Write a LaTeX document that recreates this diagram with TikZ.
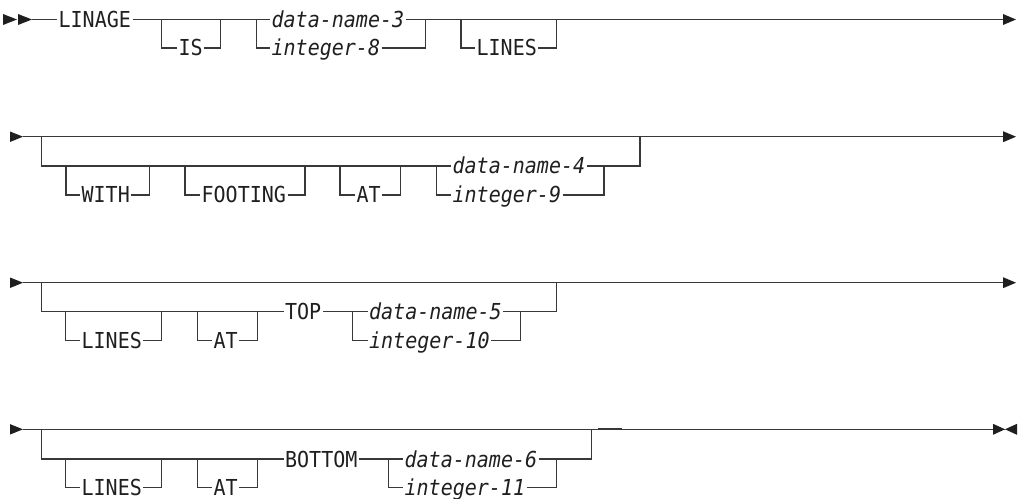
\documentclass[tikz,border=0pt]{standalone}
\usepackage{fontspec}
\newfontfamily\rrfont[FakeStretch=0.91]{DejaVu Sans Mono}
\begin{document}
\begin{tikzpicture}[x=0.75pt,y=-0.75pt,
  rail/.style={draw=black!78, line width=1pt},
  tip/.style={fill=black!88},
  kw/.style={font={\rrfont\fontsize{16.5}{18}\selectfont}, text=black!88, anchor=base west, inner xsep=1pt, inner ysep=0pt},
  var/.style={kw, font={\rrfont\fontsize{16.5}{18}\selectfont\itshape}}]
\useasboundingbox (0,0) rectangle (1018,499);
% rail levels
\coordinate (L1) at (0,19.5);  \coordinate (L1b) at (0,48);
\coordinate (L2) at (0,136.7); \coordinate (L2b) at (0,166);   \coordinate (L2c) at (0,195);
\coordinate (L3) at (0,282.7); \coordinate (L3b) at (0,311.7); \coordinate (L3c) at (0,340.7);
\coordinate (L4) at (0,429.3); \coordinate (L4b) at (0,459);   \coordinate (L4c) at (0,487.3);

% ---------------- row 1 ----------------
\node[kw]  (linage) at (57,27.5) {LINAGE};
\node[kw]  (is)     at (177,56)  {IS};
\node[var] (dn3)    at (270,27.5) {data-name-3};
\node[var] (i8)     at (270,56)  {integer-8};
\node[kw]  (lines1) at (475,56)  {LINES};
\coordinate (s1) at (32,19.5);
\coordinate (e1) at (1003,19.5);
\coordinate (a1) at (161.7,19.5); \coordinate (b1) at (220.7,19.5);
\coordinate (c1) at (256.7,19.5); \coordinate (d1) at (425.7,19.5);
\coordinate (f1) at (461,19.5);   \coordinate (g1) at (556.7,19.5);
\fill[tip] (3,14) -- (17,19.5) -- (3,25) -- cycle;
\fill[tip] (18,14) -- (s1) -- (18,25) -- cycle;
\draw[rail] (s1) -- (linage.west |- L1);
\draw[rail] (linage.east |- L1) -- (dn3.west |- L1);
\draw[rail] (a1) |- (is.west |- L1b);
\draw[rail] (is.east |- L1b) -| (b1);
\draw[rail] (c1) |- (i8.west |- L1b);
\draw[rail] (i8.east |- L1b) -| (d1);
\draw[rail] (dn3.east |- L1) -- (e1);
\draw[rail] (f1) |- (lines1.west |- L1b);
\draw[rail] (lines1.east |- L1b) -| (g1);
\fill[tip] (1003,14) -- (1016,19.5) -- (1003,25) -- cycle;

% ---------------- row 2 ----------------
\node[kw]  (with)    at (80,203)  {WITH};
\node[kw]  (footing) at (200,203) {FOOTING};
\node[kw]  (at2)     at (355,203) {AT};
\node[var] (dn4)     at (451,174) {data-name-4};
\node[var] (i9)      at (451,203) {integer-9};
\coordinate (s2) at (23,136.7);
\coordinate (e2) at (1003,136.7);
\coordinate (a2) at (41.7,136.7); \coordinate (b2) at (640,136.7);
\coordinate (w2l) at (66,166);    \coordinate (w2r) at (149.3,166);
\coordinate (f2l) at (185,166);   \coordinate (f2r) at (305,166);
\coordinate (t2l) at (340,166);   \coordinate (t2r) at (400.7,166);
\coordinate (d2l) at (436.7,166); \coordinate (d2r) at (604,166);
\fill[tip] (10,131.5) -- (s2) -- (10,142) -- cycle;
\draw[rail] (s2) -- (e2);
\fill[tip] (1003,131.2) -- (1016,136.7) -- (1003,142.2) -- cycle;
\draw[rail] (a2) |- (dn4.west |- L2b);
\draw[rail] (dn4.east |- L2b) -| (b2);
\draw[rail] (w2l) |- (with.west |- L2c);
\draw[rail] (with.east |- L2c) -| (w2r);
\draw[rail] (f2l) |- (footing.west |- L2c);
\draw[rail] (footing.east |- L2c) -| (f2r);
\draw[rail] (t2l) |- (at2.west |- L2c);
\draw[rail] (at2.east |- L2c) -| (t2r);
\draw[rail] (d2l) |- (i9.west |- L2c);
\draw[rail] (i9.east |- L2c) -| (d2r);

% ---------------- row 3 ----------------
\node[kw]  (lines3) at (80,348.7)    {LINES};
\node[kw]  (at3)    at (212,348.7)   {AT};
\node[kw]  (top)    at (283.5,319.7) {TOP};
\node[var] (dn5)    at (367.5,319.7) {data-name-5};
\node[var] (i10)    at (367.5,348.7) {integer-10};
\coordinate (s3) at (23,282.7);
\coordinate (e3) at (1003,282.7);
\coordinate (a3) at (41.7,282.7); \coordinate (b3) at (556.7,282.7);
\coordinate (l3l) at (65.7,311.7); \coordinate (l3r) at (161.7,311.7);
\coordinate (t3l) at (197.3,311.7); \coordinate (t3r) at (257.3,311.7);
\coordinate (d3l) at (352.7,311.7); \coordinate (d3r) at (520.7,311.7);
\fill[tip] (10,277.5) -- (s3) -- (10,288) -- cycle;
\draw[rail] (s3) -- (e3);
\fill[tip] (1003,277.2) -- (1016,282.7) -- (1003,288.2) -- cycle;
\draw[rail] (a3) |- (top.west |- L3b);
\draw[rail] (top.east |- L3b) -- (dn5.west |- L3b);
\draw[rail] (dn5.east |- L3b) -| (b3);
\draw[rail] (l3l) |- (lines3.west |- L3c);
\draw[rail] (lines3.east |- L3c) -| (l3r);
\draw[rail] (t3l) |- (at3.west |- L3c);
\draw[rail] (at3.east |- L3c) -| (t3r);
\draw[rail] (d3l) |- (i10.west |- L3c);
\draw[rail] (i10.east |- L3c) -| (d3r);

% ---------------- row 4 ----------------
\node[kw]  (lines4) at (80,495)  {LINES};
\node[kw]  (at4)    at (212,495) {AT};
\node[kw]  (bottom) at (283.5,467) {BOTTOM};
\node[var] (dn6)    at (403,467)   {data-name-6};
\node[var] (i11)    at (403,495) {integer-11};
\coordinate (s4) at (23,429.3);
\coordinate (e4) at (1005,429.3);
\coordinate (a4) at (41.7,429.3); \coordinate (b4) at (591.7,429.3);
\coordinate (l4l) at (65.7,459);  \coordinate (l4r) at (161.7,459);
\coordinate (t4l) at (197.3,459); \coordinate (t4r) at (257.3,459);
\coordinate (d4l) at (388.3,459); \coordinate (d4r) at (556.7,459);
\fill[tip] (10,424.1) -- (s4) -- (10,434.6) -- cycle;
\draw[rail] (s4) -- (e4);
\draw[rail, line width=1.7pt] (598,429.1) -- (621.7,429.1);
\fill[tip] (993,423.8) -- (e4) -- (993,434.8) -- cycle;
\fill[tip] (1017,423.8) -- (e4) -- (1017,434.8) -- cycle;
\draw[rail] (a4) |- (bottom.west |- L4b);
\draw[rail] (bottom.east |- L4b) -- (dn6.west |- L4b);
\draw[rail] (dn6.east |- L4b) -| (b4);
\draw[rail] (l4l) |- (lines4.west |- L4c);
\draw[rail] (lines4.east |- L4c) -| (l4r);
\draw[rail] (t4l) |- (at4.west |- L4c);
\draw[rail] (at4.east |- L4c) -| (t4r);
\draw[rail] (d4l) |- (i11.west |- L4c);
\draw[rail] (i11.east |- L4c) -| (d4r);
\end{tikzpicture}
\end{document}
